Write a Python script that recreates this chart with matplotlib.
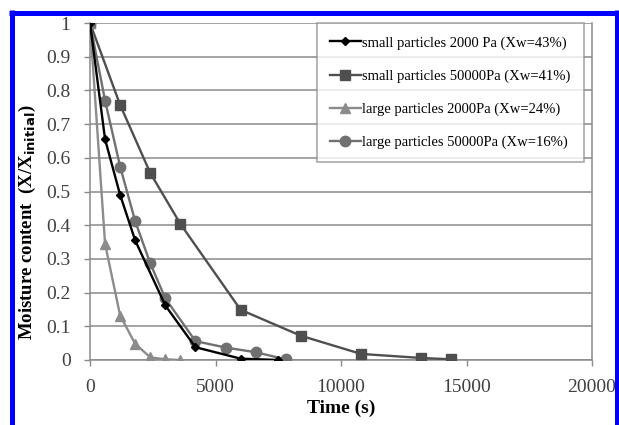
import matplotlib
matplotlib.use("Agg")
import matplotlib.pyplot as plt
from matplotlib.lines import Line2D

# data (time in s, X/X_initial)
t_small_2000 = [0, 600, 1200, 1800, 3000, 4200, 6000, 7500]
x_small_2000 = [1.0, 0.655, 0.49, 0.355, 0.162, 0.038, 0.004, 0.0]

t_small_50000 = [0, 1200, 2400, 3600, 6000, 8400, 10800, 13200, 14400]
x_small_50000 = [1.0, 0.757, 0.555, 0.404, 0.149, 0.072, 0.018, 0.006, 0.002]

t_large_2000 = [0, 600, 1200, 1800, 2400, 3000, 3600]
x_large_2000 = [1.0, 0.345, 0.132, 0.048, 0.008, 0.002, 0.0]

t_large_50000 = [0, 600, 1200, 1800, 2400, 3000, 4200, 5400, 6600, 7800]
x_large_50000 = [1.0, 0.77, 0.574, 0.412, 0.287, 0.183, 0.056, 0.037, 0.023, 0.002]

labels = [
    "small particles 2000 Pa (Xw=43%)",
    "small particles 50000Pa (Xw=41%)",
    "large particles 2000Pa (Xw=24%)",
    "large particles 50000Pa (Xw=16%)",
]
x_ticks = [0, 5000, 10000, 15000, 20000]
y_ticks = [0, 0.1, 0.2, 0.3, 0.4, 0.5, 0.6, 0.7, 0.8, 0.9, 1.0]
y_ticklabels = ["0", "0.1", "0.2", "0.3", "0.4", "0.5", "0.6", "0.7", "0.8", "0.9", "1"]

plt.rcParams["font.family"] = ["Liberation Serif", "DejaVu Serif"]

W, H = 619, 425
fig = plt.figure(figsize=(W / 100, H / 100), dpi=100)
ax = fig.add_axes([90 / W, 1 - 360 / H, (592 - 90) / W, (360 - 23) / H])

ax.plot(t_small_2000, x_small_2000, color="#000000", lw=1.7, marker="D", ms=4.5,
        label=labels[0], zorder=5)
ax.plot(t_small_50000, x_small_50000, color="#4f4f4f", lw=1.7, marker="s", ms=7.5,
        label=labels[1], zorder=3)
ax.plot(t_large_2000, x_large_2000, color="#8c8c8c", lw=1.7, marker="^", ms=7,
        label=labels[2], zorder=3)
ax.plot(t_large_50000, x_large_50000, color="#707070", lw=1.7, marker="o", ms=7.5,
        label=labels[3], zorder=4)

ax.set_xlim(0, 20000)
ax.set_ylim(0, 1)
ax.set_xticks(x_ticks)
ax.set_yticks(y_ticks)
ax.set_yticklabels(y_ticklabels)
ax.yaxis.grid(True, color="#8a8a8a", lw=1.1)
ax.set_axisbelow(True)
for side in ["top", "right", "left", "bottom"]:
    ax.spines[side].set_color("#8a8a8a")
    ax.spines[side].set_linewidth(1.1)
ax.spines["top"].set_visible(False)
ax.tick_params(axis="both", colors="#8a8a8a", labelcolor="#404040",
               labelsize=14, length=4, width=1)
ax.tick_params(axis="x", pad=10)
ax.tick_params(axis="y", pad=10)

ax.set_xlabel("Time (s)", fontsize=14, fontweight="bold", labelpad=2)
ax.set_ylabel(r"Moisture content  (X/X$_{\mathbf{initial}}$)", fontsize=13.5,
              fontweight="bold")
ax.yaxis.set_label_coords(-0.104, 0.41)

leg = ax.legend(loc="upper left", bbox_to_anchor=(0.452, 1.0), fontsize=10.5,
                frameon=True, fancybox=False, edgecolor="#8a8a8a",
                handlelength=2.1, handletextpad=0.1, labelspacing=1.35,
                borderpad=0.9, borderaxespad=0)
leg.get_frame().set_linewidth(1.1)

# blue frame around the picture (left, top, right)
blue = "#0000ff"
fig.add_artist(Line2D([11.5 / W, 11.5 / W], [0, 1 - 10 / H], color=blue, lw=3.6,
                      transform=fig.transFigure, solid_capstyle="butt"))
fig.add_artist(Line2D([9 / W, 619 / W], [1 - 12.5 / H, 1 - 12.5 / H], color=blue,
                      lw=3.6, transform=fig.transFigure, solid_capstyle="butt"))
fig.add_artist(Line2D([617 / W, 617 / W], [0, 1 - 10 / H], color=blue, lw=3.6,
                      transform=fig.transFigure, solid_capstyle="butt"))

fig.savefig("out.png", dpi=100)
